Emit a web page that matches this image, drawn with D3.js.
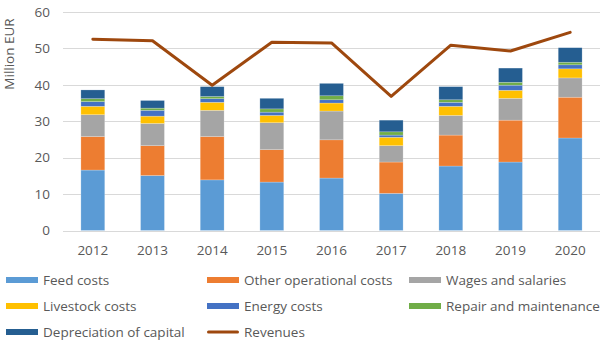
<!DOCTYPE html>
<html>
<head>
<meta charset="utf-8">
<script src="https://cdn.jsdelivr.net/npm/d3@7/dist/d3.min.js"></script>
<style>
  html, body { margin: 0; padding: 0; background: #fff; }
  svg text { font-family: "Open Sans", "Liberation Sans", sans-serif; fill: #595959; }
</style>
</head>
<body>
<svg id="chart" width="601" height="345"></svg>
<script>
// Farm cost breakdown and revenues, million EUR
const years = ["2012", "2013", "2014", "2015", "2016", "2017", "2018", "2019", "2020"];
const feedCosts        = [16.6, 15.1, 13.9, 13.3, 14.4, 10.2, 17.7, 18.8, 25.4];
const otherOperational = [9.2, 8.2, 11.9, 8.9, 10.5, 8.6, 8.5, 11.5, 11.2];
const wagesSalaries    = [6.0, 6.1, 7.2, 7.4, 7.9, 4.5, 5.4, 6.0, 5.3];
const livestockCosts   = [2.3, 2.0, 2.2, 2.0, 2.2, 2.3, 2.5, 2.2, 2.5];
const energyCosts      = [1.3, 1.6, 1.0, 0.9, 0.9, 0.6, 1.1, 1.4, 1.1];
const repairMaint      = [0.8, 0.6, 0.6, 0.9, 1.1, 0.9, 0.7, 0.8, 0.7];
const depreciation     = [2.4, 2.1, 2.7, 2.9, 3.4, 3.2, 3.6, 3.9, 4.0];
const revenues         = [52.5, 52.1, 39.9, 51.7, 51.5, 36.8, 50.9, 49.3, 54.4];
const yTicks = [0, 10, 20, 30, 40, 50, 60];

const series = [
  { key: "feed",   name: "Feed costs",               values: feedCosts,        color: "#5B9BD5" },
  { key: "other",  name: "Other operational costs",  values: otherOperational, color: "#ED7D31" },
  { key: "wages",  name: "Wages and salaries",       values: wagesSalaries,    color: "#A5A5A5" },
  { key: "live",   name: "Livestock costs",          values: livestockCosts,   color: "#FFC000" },
  { key: "energy", name: "Energy costs",             values: energyCosts,      color: "#4472C4" },
  { key: "repair", name: "Repair and maintenance",   values: repairMaint,      color: "#70AD47" },
  { key: "dep",    name: "Depreciation of capital",  values: depreciation,     color: "#255E91" }
];
const revenueColor = "#9E480E";

const table = years.map((y, i) => {
  const row = { year: y };
  series.forEach(s => row[s.key] = s.values[i]);
  return row;
});

const svg = d3.select("#chart");
const plot = { left: 63, right: 600, top: 12, bottom: 230.5 };

const x = d3.scaleBand().domain(years).range([plot.left, plot.right]).paddingInner(0.6).paddingOuter(0.3);
const y = d3.scaleLinear().domain([0, 60]).range([plot.bottom, plot.top]);

// horizontal gridlines
svg.append("g")
  .selectAll("line")
  .data(yTicks)
  .join("line")
  .attr("x1", plot.left).attr("x2", plot.right)
  .attr("y1", d => Math.round(y(d)) + 0.5).attr("y2", d => Math.round(y(d)) + 0.5)
  .attr("stroke", "#D9D9D9").attr("stroke-width", 1);

// y axis labels
const yAxis = svg.append("g")
  .attr("transform", `translate(${plot.left},0)`)
  .call(d3.axisLeft(y).tickValues(yTicks).tickSize(0).tickPadding(13));
yAxis.select(".domain").remove();
yAxis.selectAll("text").style("font-size", "13.5px").attr("fill", "#595959");

svg.append("text")
  .attr("transform", "translate(14,54) rotate(-90)")
  .attr("text-anchor", "middle")
  .style("font-size", "13.5px")
  .text("Million EUR");

// x axis labels
const xAxis = svg.append("g")
  .attr("transform", `translate(0,${plot.bottom})`)
  .call(d3.axisBottom(x).tickSize(0).tickPadding(15));
xAxis.select(".domain").remove();
xAxis.selectAll("text").style("font-size", "13.5px").attr("fill", "#595959");

// stacked bars
const stacked = d3.stack().keys(series.map(s => s.key))(table);
svg.append("g")
  .selectAll("g")
  .data(stacked)
  .join("g")
  .attr("fill", (d, i) => series[i].color)
  .selectAll("rect")
  .data(d => d)
  .join("rect")
  .attr("x", d => x(d.data.year))
  .attr("width", x.bandwidth())
  .attr("y", d => y(d[1]))
  .attr("height", d => y(d[0]) - y(d[1]))
  .attr("stroke", "#ffffff")
  .attr("stroke-opacity", 0.35)
  .attr("stroke-width", 0.6);

// revenue line
const line = d3.line()
  .x((d, i) => x(years[i]) + x.bandwidth() / 2)
  .y(d => y(d));
svg.append("path")
  .datum(revenues)
  .attr("d", line)
  .attr("fill", "none")
  .attr("stroke", revenueColor)
  .attr("stroke-width", 3)
  .attr("stroke-linejoin", "round")
  .attr("stroke-linecap", "round");

// legend: three columns, three rows
const legendItems = series.map(s => ({ name: s.name, color: s.color, type: "rect" }))
  .concat([{ name: "Revenues", color: revenueColor, type: "line" }]);
const colX = [6, 207, 409];
const rowY = [280, 306, 332];
const legend = svg.append("g");
legendItems.forEach((item, i) => {
  const gx = colX[i % 3], gy = rowY[Math.floor(i / 3)];
  const g = legend.append("g").attr("transform", `translate(${gx},${gy})`);
  if (item.type === "rect") {
    g.append("rect").attr("x", 0).attr("y", -3).attr("width", 32).attr("height", 6).attr("fill", item.color);
  } else {
    g.append("line").attr("x1", 1.5).attr("x2", 30.5).attr("y1", 0).attr("y2", 0)
      .attr("stroke", item.color).attr("stroke-width", 3).attr("stroke-linecap", "round");
  }
  g.append("text").attr("x", 37).attr("y", 0).attr("dy", "0.35em")
    .style("font-size", "13.5px").text(item.name);
});
</script>
</body>
</html>
